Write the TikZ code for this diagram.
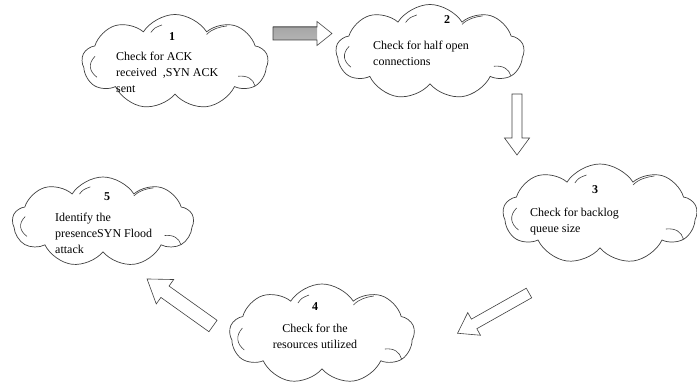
\documentclass[tikz,border=0pt]{standalone}
\usepackage{fontspec}
\setmainfont{Liberation Serif}
\usetikzlibrary{shapes.symbols}
\begin{document}
\begin{tikzpicture}[x=1pt,y=-1pt,
  cloudbox/.style={cloud, cloud puffs=9, cloud puff arc=115, cloud ignores aspect,
    draw=black!75, line width=0.7pt, inner sep=0pt},
  markline/.style={draw=black!75, line width=0.6pt},
  numlabel/.style={font=\fontsize{12}{14}\selectfont\bfseries, inner sep=0pt},
  cloudtext/.style={font=\fontsize{12}{16}\selectfont, align=left, inner sep=0pt, anchor=west},
  centertext/.style={font=\fontsize{12}{16}\selectfont, align=center, inner sep=0pt},
  blockarrow/.style={draw=black!75, line width=0.6pt, fill=white},
  pics/barrow/.style args={#1/#2/#3/#4}{code={
    \draw[blockarrow] (0,-#2) -- ({#1-#4},-#2) -- ({#1-#4},-#3) -- (#1,0)
      -- ({#1-#4},#3) -- ({#1-#4},#2) -- (0,#2) -- cycle;}},
  pics/cloudmarks/.style={code={
    \draw[markline] (-0.43,-0.06) .. controls (-0.47,0.02) and (-0.46,0.10) .. (-0.42,0.16);
    \draw[markline] (0.34,0.15) .. controls (0.39,0.14) and (0.42,0.18) .. (0.43,0.25);
    \draw[markline] (0.17,-0.29) .. controls (0.20,-0.35) and (0.24,-0.37) .. (0.28,-0.38);
    \draw[markline] (-0.13,-0.31) .. controls (-0.11,-0.36) .. (-0.07,-0.39);}}
]
\useasboundingbox (0,0) rectangle (697,385);

% clouds
\node[cloudbox, minimum width=186pt, minimum height=95pt] (c1) at (175,62) {};
\node[cloudbox, minimum width=188pt, minimum height=95pt] (c2) at (430,52) {};
\node[cloudbox, minimum width=194pt, minimum height=100pt] (c3) at (600,214) {};
\node[cloudbox, minimum width=181pt, minimum height=90pt] (c5) at (103,222) {};
\node[cloudbox, minimum width=185pt, minimum height=100pt] (c4) at (322,334) {};
\pic[xscale=186, yscale=95] at (c1) {cloudmarks};
\pic[xscale=188, yscale=95] at (c2) {cloudmarks};
\pic[xscale=194, yscale=100] at (c3) {cloudmarks};
\pic[xscale=181, yscale=90] at (c5) {cloudmarks};
\pic[xscale=185, yscale=100] at (c4) {cloudmarks};

% labels
\node[numlabel] (n1) at (172,37) {1};
\node[cloudtext] (t1) at (116,72) {Check for ACK\\received\ \ ,SYN ACK\\sent};
\node[numlabel] (n2) at (447,20) {2};
\node[cloudtext] (t2) at (373,53) {Check for half open\\connections};
\node[numlabel] (n3) at (595,190) {3};
\node[cloudtext] (t3) at (530,222) {Check for backlog\\queue size};
\node[numlabel] (n5) at (107,197) {5};
\node[cloudtext] (t5) at (55,233) {Identify the\\presenceSYN Flood\\attack};
\node[numlabel] (n4) at (315,307) {4};
\node[centertext] (t4) at (315,336) {Check for the\\resources utilized};

% block arrows
\coordinate (a1) at (273,33.5);
\coordinate (a2) at (517,94);
\coordinate (a3) at (529,293);
\coordinate (a4) at (213,326);
\shade[top color=black!35, middle color=white, bottom color=black!30] (273,27) rectangle (317,40);
\draw[blockarrow, fill=none] (a1) ++(0,-6.5) -- ++(44,0) -- ++(0,-5.5) -- (332,33.5)
  -- (317,45.5) -- ++(0,-5.5) -- ++(-44,0) -- cycle;
\pic[rotate=-90] at (a2) {barrow=61/5/12.5/17};
\pic[rotate=209.4] at (a3) {barrow=82/5.5/13/19};
\pic[rotate=144.5] at (a4) {barrow=81/7/15/22};
\end{tikzpicture}
\end{document}
